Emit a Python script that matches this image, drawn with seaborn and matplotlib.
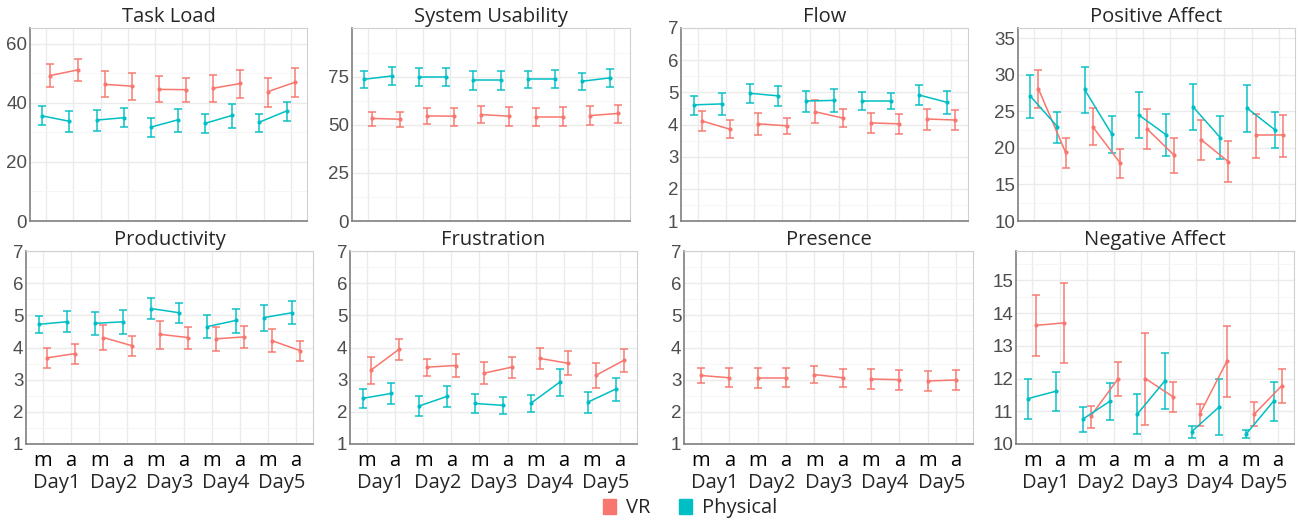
import numpy as np
import pandas as pd
import matplotlib
matplotlib.use('Agg')
import matplotlib.pyplot as plt
from matplotlib.patches import Patch
import seaborn as sns

# categories
days = ['Day1', 'Day2', 'Day3', 'Day4', 'Day5']
times = ['m', 'a']
groups = ['VR', 'Physical']

# values in order Day1 m, Day1 a, Day2 m, ... Day5 a
task_vr = [49.3, 51.2, 46.3, 45.7, 44.6, 44.5, 45.0, 46.6, 43.8, 47.0]
task_vr_hi = [53.1, 55.0, 50.9, 50.3, 49.1, 48.6, 49.4, 51.1, 48.6, 51.7]
task_vr_lo = [45.3, 47.4, 41.9, 41.0, 40.2, 40.3, 40.4, 41.8, 38.7, 42.1]
task_ph = [35.6, 33.8, 34.2, 35.0, 31.8, 34.3, 33.1, 35.8, 33.5, 37.3]
task_ph_hi = [38.8, 37.3, 37.6, 38.4, 34.8, 37.9, 36.3, 39.8, 36.4, 40.4]
task_ph_lo = [32.4, 30.3, 30.6, 31.8, 28.5, 30.3, 29.7, 31.5, 30.3, 34.0]

sus_vr = [53.4, 53.0, 54.7, 54.6, 55.4, 54.6, 54.4, 54.4, 54.9, 56.0]
sus_vr_hi = [56.8, 56.8, 58.9, 58.9, 60.1, 59.2, 58.9, 59.2, 59.8, 60.6]
sus_vr_lo = [49.5, 49.0, 50.4, 49.7, 50.8, 49.5, 49.4, 49.4, 49.9, 51.1]
sus_ph = [73.8, 75.5, 75.0, 75.0, 73.3, 73.3, 74.1, 74.1, 72.8, 74.5]
sus_ph_hi = [77.9, 80.0, 79.5, 79.5, 78.0, 78.0, 78.3, 78.8, 77.1, 79.0]
sus_ph_lo = [69.5, 71.0, 70.2, 70.2, 68.4, 68.4, 69.3, 69.1, 68.1, 69.8]

flow_vr = [4.11, 3.85, 4.02, 3.96, 4.40, 4.20, 4.05, 4.02, 4.17, 4.14]
flow_vr_hi = [4.43, 4.14, 4.36, 4.20, 4.76, 4.48, 4.37, 4.33, 4.48, 4.44]
flow_vr_lo = [3.80, 3.57, 3.67, 3.71, 4.05, 3.92, 3.74, 3.71, 3.84, 3.82]
flow_ph = [4.61, 4.64, 4.97, 4.89, 4.73, 4.75, 4.73, 4.73, 4.92, 4.69]
flow_ph_hi = [4.90, 4.97, 5.27, 5.21, 5.03, 5.09, 5.00, 4.97, 5.24, 5.05]
flow_ph_lo = [4.30, 4.31, 4.67, 4.56, 4.39, 4.40, 4.45, 4.49, 4.61, 4.32]

pos_vr = [28.1, 19.4, 22.9, 18.0, 22.6, 19.0, 21.1, 18.1, 21.7, 21.7]
pos_vr_hi = [30.7, 21.4, 25.4, 19.9, 25.3, 21.3, 23.8, 20.9, 24.6, 24.5]
pos_vr_lo = [25.4, 17.2, 20.4, 15.9, 19.8, 16.5, 18.3, 15.4, 18.6, 18.7]
pos_ph = [27.1, 22.9, 28.0, 21.9, 24.5, 21.8, 25.6, 21.4, 25.4, 22.5]
pos_ph_hi = [30.0, 24.9, 31.1, 24.4, 27.7, 24.7, 28.7, 24.3, 28.6, 24.9]
pos_ph_lo = [24.1, 20.7, 24.8, 19.3, 21.3, 18.9, 22.5, 18.5, 22.2, 20.0]

prod_vr = [3.68, 3.81, 4.31, 4.06, 4.41, 4.31, 4.27, 4.33, 4.21, 3.90]
prod_vr_hi = [3.99, 4.12, 4.69, 4.37, 4.83, 4.63, 4.64, 4.68, 4.56, 4.21]
prod_vr_lo = [3.35, 3.49, 3.91, 3.74, 3.96, 3.96, 3.90, 3.99, 3.86, 3.58]
prod_ph = [4.72, 4.80, 4.75, 4.80, 5.21, 5.08, 4.65, 4.84, 4.93, 5.08]
prod_ph_hi = [4.98, 5.13, 5.09, 5.18, 5.53, 5.39, 5.00, 5.21, 5.33, 5.45]
prod_ph_lo = [4.46, 4.47, 4.38, 4.43, 4.90, 4.76, 4.28, 4.46, 4.51, 4.72]

frus_vr = [3.30, 3.95, 3.39, 3.44, 3.20, 3.39, 3.66, 3.51, 3.14, 3.61]
frus_vr_hi = [3.71, 4.26, 3.65, 3.80, 3.54, 3.71, 3.97, 3.88, 3.52, 3.95]
frus_vr_lo = [2.87, 3.62, 3.12, 3.09, 2.85, 3.05, 3.34, 3.13, 2.74, 3.24]
frus_ph = [2.42, 2.57, 2.18, 2.48, 2.26, 2.20, 2.28, 2.92, 2.30, 2.71]
frus_ph_hi = [2.71, 2.91, 2.48, 2.80, 2.55, 2.45, 2.52, 3.32, 2.63, 3.05]
frus_ph_lo = [2.12, 2.23, 1.86, 2.14, 1.96, 1.93, 2.00, 2.49, 1.96, 2.34]

pres_vr = [3.13, 3.06, 3.06, 3.06, 3.16, 3.06, 3.02, 3.00, 2.96, 2.99]
pres_vr_hi = [3.36, 3.36, 3.36, 3.36, 3.41, 3.32, 3.32, 3.30, 3.26, 3.29]
pres_vr_lo = [2.89, 2.76, 2.74, 2.76, 2.89, 2.77, 2.71, 2.69, 2.65, 2.68]

neg_vr = [13.63, 13.70, 10.86, 12.00, 12.00, 11.45, 10.93, 12.55, 10.92, 11.78]
neg_vr_hi = [14.54, 14.92, 11.17, 12.52, 13.39, 11.91, 11.23, 13.62, 11.28, 12.28]
neg_vr_lo = [12.69, 12.48, 10.48, 11.47, 10.58, 10.99, 10.56, 11.45, 10.54, 11.26]
neg_ph = [11.39, 11.61, 10.76, 11.31, 10.91, 11.92, 10.38, 11.13, 10.31, 11.31]
neg_ph_hi = [12.00, 12.20, 11.13, 11.85, 11.52, 12.77, 10.55, 12.00, 10.43, 11.90]
neg_ph_lo = [10.76, 11.01, 10.38, 10.74, 10.30, 11.08, 10.19, 10.28, 10.17, 10.70]

panels = [
    ('Task Load', {'VR': (task_vr, task_vr_lo, task_vr_hi), 'Physical': (task_ph, task_ph_lo, task_ph_hi)}),
    ('System Usability', {'VR': (sus_vr, sus_vr_lo, sus_vr_hi), 'Physical': (sus_ph, sus_ph_lo, sus_ph_hi)}),
    ('Flow', {'VR': (flow_vr, flow_vr_lo, flow_vr_hi), 'Physical': (flow_ph, flow_ph_lo, flow_ph_hi)}),
    ('Positive Affect', {'VR': (pos_vr, pos_vr_lo, pos_vr_hi), 'Physical': (pos_ph, pos_ph_lo, pos_ph_hi)}),
    ('Productivity', {'VR': (prod_vr, prod_vr_lo, prod_vr_hi), 'Physical': (prod_ph, prod_ph_lo, prod_ph_hi)}),
    ('Frustration', {'VR': (frus_vr, frus_vr_lo, frus_vr_hi), 'Physical': (frus_ph, frus_ph_lo, frus_ph_hi)}),
    ('Presence', {'VR': (pres_vr, pres_vr_lo, pres_vr_hi)}),
    ('Negative Affect', {'VR': (neg_vr, neg_vr_lo, neg_vr_hi), 'Physical': (neg_ph, neg_ph_lo, neg_ph_hi)}),
]

# axes layout (pixel boxes: left, top, right, bottom) and y scales
W, H = 1302, 525
boxes = [(30, 28, 307, 221), (352, 28, 630, 221), (681, 28, 968, 221), (1018, 28, 1295, 221),
         (26, 251, 313, 444), (350, 251, 637, 444), (684, 251, 973, 444), (1016, 251, 1294, 444)]
ylims = [(0, 65.4), (0, 100.5), (1, 7), (10, 36.4), (1, 7), (1, 7), (1, 7), (10, 15.9)]
yticks = [np.arange(0, 61, 20), np.arange(0, 76, 25), np.arange(1, 8), np.arange(10, 36, 5),
          np.arange(1, 8), np.arange(1, 8), np.arange(1, 8), np.arange(10, 16)]

palette = {'VR': '#F8766D', 'Physical': '#00BFC4'}
offsets = {'VR': 0.15, 'Physical': -0.15}

sns.set_style('white')
plt.rcParams['font.family'] = ['Open Sans', 'DejaVu Sans']

fig = plt.figure(figsize=(W / 100, H / 100), dpi=100)

for i, (title, series) in enumerate(panels):
    l, t, r, b = boxes[i]
    ax = fig.add_axes([l / W, 1 - b / H, (r - l) / W, (b - t) / H])

    rows = []
    for g, (mean, lo, hi) in series.items():
        off = offsets[g] if len(series) > 1 else 0.0
        for k in range(10):
            rows.append({'group': g, 'day': days[k // 2], 'time': times[k % 2],
                         'x': k + off, 'mean': mean[k], 'lo': lo[k], 'hi': hi[k]})
    df = pd.DataFrame(rows)

    # error bars first, then the connecting lines
    for g in series:
        sub = df[df.group == g]
        ax.errorbar(sub.x, sub['mean'], yerr=[sub['mean'] - sub.lo, sub.hi - sub['mean']],
                    fmt='none', ecolor=palette[g], elinewidth=1.3, capsize=2.6,
                    capthick=1.3, alpha=0.8, zorder=3)
    sns.lineplot(data=df, x='x', y='mean', hue='group', units='day', estimator=None,
                 palette=palette, marker='o', markersize=3, markeredgewidth=0,
                 linewidth=1.1, legend=False, ax=ax, zorder=4)

    ax.set_xlim(-0.6, 9.6)
    ax.set_ylim(*ylims[i])
    ax.set_yticks(yticks[i])
    step = yticks[i][1] - yticks[i][0]
    ax.set_yticks(np.arange(yticks[i][0] + step / 2, ylims[i][1], step), minor=True)
    ax.set_xticks(range(10))
    ax.grid(True, which='major', color='#EBEBEB', linewidth=1.0)
    ax.grid(True, which='minor', axis='y', color='#F5F5F5', linewidth=0.6)
    ax.set_axisbelow(True)
    ax.set_xlabel('')
    ax.set_ylabel('')
    ax.set_title(title, fontsize=14.5, pad=4)

    for s in ['top', 'right']:
        ax.spines[s].set_color('#D0D0D0')
        ax.spines[s].set_linewidth(0.8)
    for s in ['left', 'bottom']:
        ax.spines[s].set_color('#7F7F7F')
        ax.spines[s].set_linewidth(1.2)

    ax.tick_params(axis='y', length=0, pad=2, labelsize=13.5, labelcolor='#4D4D4D')
    for lab in ax.get_yticklabels():
        lab.set_family(['Liberation Sans', 'DejaVu Sans'])
    ax.tick_params(axis='y', which='minor', length=0)

    if i >= 4:
        ax.set_xticklabels(times * 5)
        ax.tick_params(axis='x', length=0, pad=5, labelsize=14.5, labelcolor='black')
        for d, day in enumerate(days):
            ax.text(2 * d + 0.5, -0.2, day, transform=ax.get_xaxis_transform(),
                    ha='center', va='center', fontsize=14.5)
    else:
        ax.set_xticklabels([])
        ax.tick_params(axis='x', length=0)

handles = [Patch(color=palette[g], label=g) for g in groups]
fig.legend(handles=handles, loc='center', bbox_to_anchor=(0.53, 0.032), ncol=2,
           frameon=False, fontsize=14.5, handlelength=0.65, handleheight=0.75,
           handletextpad=0.5, columnspacing=1.4)

fig.savefig('out.png', dpi=100)
